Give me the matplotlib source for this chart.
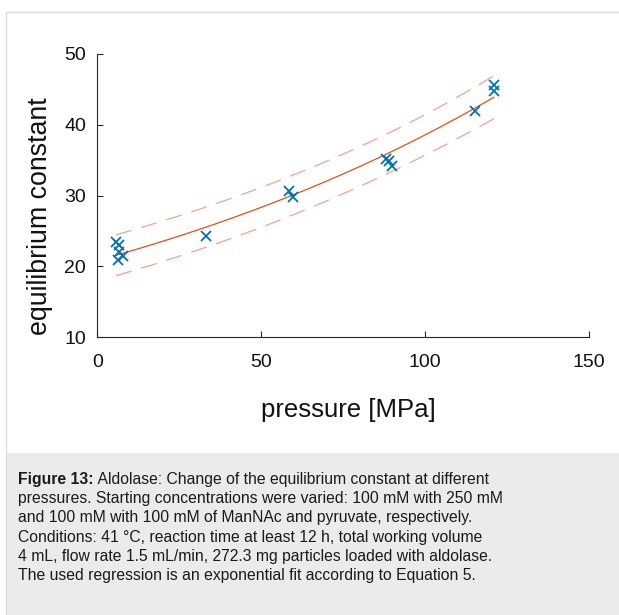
import numpy as np
import matplotlib
matplotlib.use("Agg")
import matplotlib.pyplot as plt
from matplotlib.patches import Rectangle

# ---- data ----
pressure = [5.7, 6.6, 6.6, 7.8, 6.3, 33.1, 58.4, 59.7, 88.0, 88.9, 89.9, 115.1, 120.9, 120.9]
eq_const = [23.5, 23.0, 22.1, 21.5, 20.9, 24.3, 30.7, 29.8, 35.2, 34.9, 34.2, 42.0, 45.6, 44.8]
xticks = [0, 50, 100, 150]
yticks = [10, 20, 30, 40, 50]
caption_bold = "Figure 13:"
caption_lines = [
    " Aldolase: Change of the equilibrium constant at different",
    "pressures. Starting concentrations were varied: 100 mM with 250 mM",
    "and 100 mM with 100 mM of ManNAc and pyruvate, respectively.",
    "Conditions: 41 \u00b0C, reaction time at least 12 h, total working volume",
    "4 mL, flow rate 1.5 mL/min, 272.3 mg particles loaded with aldolase.",
    "The used regression is an exponential fit according to Equation 5.",
]

# ---- exponential fit y = a*exp(b*x) with prediction bounds ----
x = np.array(pressure, float)
y = np.array(eq_const, float)
b, la = np.polyfit(x, np.log(y), 1)
a = np.exp(la)
for _ in range(50):  # Gauss-Newton refinement
    f = a * np.exp(b * x)
    J = np.column_stack([np.exp(b * x), a * x * np.exp(b * x)])
    step, *_ = np.linalg.lstsq(J, y - f, rcond=None)
    a += step[0]; b += step[1]
f = a * np.exp(b * x)
J = np.column_stack([np.exp(b * x), a * x * np.exp(b * x)])
n = len(x)
s2 = np.sum((y - f) ** 2) / (n - 2)
cov = s2 * np.linalg.inv(J.T @ J)
tval = 2.1788  # t(0.975, 12)
xf = np.linspace(x.min(), x.max(), 200)
yf = a * np.exp(b * xf)
Jf = np.column_stack([np.exp(b * xf), a * xf * np.exp(b * xf)])
half = tval * np.sqrt(s2 + np.einsum('ij,jk,ik->i', Jf, cov, Jf))

plt.rcParams['font.family'] = ['Liberation Sans', 'DejaVu Sans']
cap_family = ['Liberation Sans', 'DejaVu Sans']
cap_size = 11.35

W, H = 619, 615
fig = plt.figure(figsize=(W / 100, H / 100), dpi=100)

def fx(px):
    return px / W

def fy(py):
    return 1 - py / H

# frame and caption box
fig.add_artist(Rectangle((fx(6), 0), 1.0, fy(12), transform=fig.transFigure,
                         facecolor='white', edgecolor='#dcdcdc', lw=1.0, zorder=0))
fig.add_artist(Rectangle((fx(6.5), 0), 1.0, fy(453), transform=fig.transFigure,
                         facecolor='#ebebeb', edgecolor='none', zorder=0.5))

ax = fig.add_axes([fx(97.3), fy(337.3), (589.3 - 97.3) / W, (337.3 - 54) / H])
ax.set_facecolor('none')

blue = '#0072BD'
orange = '#D95319'
ax.plot(xf, yf, color=orange, lw=0.9, zorder=2)
for sgn in (1, -1):
    ax.plot(xf, yf + sgn * half, color='#EFA58C', lw=0.9,
            dashes=(13, 8), zorder=1)
ax.plot(x, y, linestyle='none', marker='x', color=blue, markersize=7.5,
        markeredgewidth=1.3, zorder=3)

ax.set_xlim(0, 150)
ax.set_ylim(10, 50)
ax.set_xticks(xticks)
ax.set_yticks(yticks)
for sp in ('top', 'right'):
    ax.spines[sp].set_visible(False)
for sp in ('left', 'bottom'):
    ax.spines[sp].set_color('#262626')
    ax.spines[sp].set_linewidth(0.8)
ax.tick_params(direction='in', length=4, width=0.8, color='#262626',
               labelsize=14, labelcolor='#111111')
ax.tick_params(axis='x', pad=12)
ax.tick_params(axis='y', pad=8)

fig.text(fx(348), fy(410), 'pressure [MPa]', ha='center', va='center',
         fontsize=18.5, color='#111111')
fig.text(fx(40), fy(216), 'equilibrium constant', ha='center', va='center',
         rotation=90, fontsize=19.3, color='#111111')

# caption
y0 = 484
lh = 19.2
t = fig.text(fx(18), fy(y0), caption_bold, fontsize=cap_size, fontweight='bold',
             family=cap_family, color='#1a1a1a', va='baseline', ha='left')
fig.canvas.draw()
bb = t.get_window_extent()
fig.text(bb.x1 / W, fy(y0), caption_lines[0], fontsize=cap_size, family=cap_family,
         color='#1a1a1a', va='baseline', ha='left')
for i, line in enumerate(caption_lines[1:], start=1):
    fig.text(fx(18), fy(y0 + i * lh), line, fontsize=cap_size, family=cap_family,
             color='#1a1a1a', va='baseline', ha='left')

fig.savefig('out.png', dpi=100)
